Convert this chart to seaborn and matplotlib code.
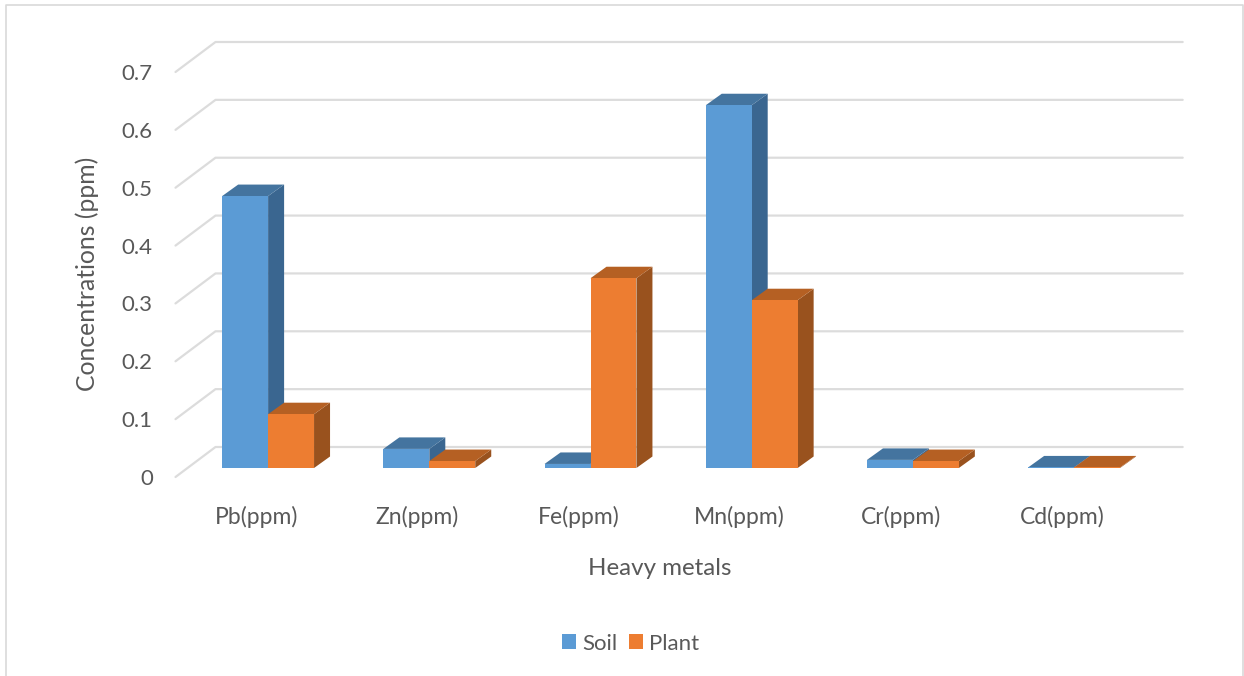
import matplotlib
matplotlib.use('Agg')
import matplotlib.pyplot as plt
from matplotlib.lines import Line2D
from matplotlib.patches import Polygon
from matplotlib.transforms import ScaledTranslation
import pandas as pd
import seaborn as sns

metals = ['Pb(ppm)', 'Zn(ppm)', 'Fe(ppm)', 'Mn(ppm)', 'Cr(ppm)', 'Cd(ppm)']
soil = [0.47, 0.033, 0.007, 0.627, 0.014, 0.001]
plant = [0.093, 0.012, 0.328, 0.29, 0.012, 0.001]
y_ticks = [0, 0.1, 0.2, 0.3, 0.4, 0.5, 0.6, 0.7]
y_labels = ['0', '0.1', '0.2', '0.3', '0.4', '0.5', '0.6', '0.7']

W, H = 1244, 676
TEXT = '#595959'
GRID = '#dcdcdc'
front_colors = {'Soil': '#5b9bd5', 'Plant': '#ed7d31'}
top_colors = ['#44749f', '#b56023']
side_colors = ['#3a6690', '#99521e']

sns.set_theme(style='white')
plt.rcParams['font.family'] = ['Lato', 'DejaVu Sans']

df = pd.DataFrame({
    'metal': metals * 2,
    'value': soil + plant,
    'series': ['Soil'] * len(metals) + ['Plant'] * len(metals),
})

fig = plt.figure(figsize=(W / 100, H / 100), dpi=100)
ax = fig.add_axes([187.5 / W, (H - 468) / H, 967.2 / W, 405 / H])

sns.barplot(data=df, x='metal', y='value', hue='series', hue_order=['Soil', 'Plant'],
            palette=front_colors, width=0.57, gap=0, dodge=True, saturation=1,
            errorbar=None, ax=ax, zorder=3, linewidth=0)
ax.set_xlim(-0.5, 5.5)
ax.set_ylim(0, 0.7)

# pixel sizes of the fake depth, turned into data units
px_x = 6 / 967.2
px_y = 0.7 / 405

# back wall grid with its diagonal going to the front
for t in y_ticks:
    ax.plot([-0.5 - 12 * px_x, -0.5 + 28 * px_x, 5.5 + 28 * px_x],
            [t - 9 * px_y, t + 21 * px_y, t + 21 * px_y],
            color=GRID, lw=1.6, clip_on=False, zorder=0)

# side and top face of each bar
bars = [p for p in ax.patches if p.get_height() > 0]
dx = 16 * px_x
dy = 11.5 * px_y
for i, bar in enumerate(bars):
    k = 0 if i < len(metals) else 1
    x0, w, h = bar.get_x(), bar.get_width(), bar.get_height()
    top = Polygon([(x0, h), (x0 + w, h), (x0 + w + dx, h + dy), (x0 + dx, h + dy)],
                  facecolor=top_colors[k], edgecolor='none', clip_on=False, zorder=1 + k * 0.5)
    side = Polygon([(x0 + w, 0), (x0 + w + dx, dy), (x0 + w + dx, h + dy), (x0 + w, h)],
                   facecolor=side_colors[k], edgecolor='none', clip_on=False, zorder=1 + k * 0.5)
    ax.add_patch(side)
    ax.add_patch(top)

sns.despine(ax=ax, left=True, bottom=True)
ax.set_yticks(y_ticks)
ax.set_yticklabels(y_labels)
ax.set_xticks(range(len(metals)))
ax.set_xticklabels(metals)
ax.tick_params(axis='y', length=0, pad=25, labelsize=16, labelcolor=TEXT)
ax.tick_params(axis='x', length=0, pad=27, labelsize=16.5, labelcolor=TEXT)

y_shift = ScaledTranslation(0, -9 / 100, fig.dpi_scale_trans)
x_shift = ScaledTranslation(-12 / 100, 0, fig.dpi_scale_trans)
for label in ax.get_yticklabels():
    label.set_transform(label.get_transform() + y_shift)
for label in ax.get_xticklabels():
    label.set_transform(label.get_transform() + x_shift)

ax.set_xlabel('Heavy metals', fontsize=17.4, color=TEXT)
ax.xaxis.set_label_coords(660 / W, (H - 568.5) / H, transform=fig.transFigure)
ax.xaxis.label.set_verticalalignment('center')
ax.set_ylabel('Concentrations (ppm)', fontsize=17.8, color=TEXT)
ax.yaxis.set_label_coords(87 / W, (H - 274) / H, transform=fig.transFigure)
ax.yaxis.label.set_verticalalignment('center')

leg = ax.legend(loc='center', bbox_to_anchor=(630.5 / W, (H - 643.5) / H),
                bbox_transform=fig.transFigure, ncol=2, frameon=False, title=None,
                fontsize=16, handlelength=0.63, handleheight=0.63, handletextpad=0.3,
                columnspacing=0.5, labelcolor=TEXT)

# chart frame, open at the bottom of the picture
fig.add_artist(Line2D([6 / W, 6 / W, 1243 / W, 1243 / W],
                      [0, (H - 5) / H, (H - 5) / H, 0],
                      color='#d9d9d9', lw=1.2))

fig.savefig('out.png', dpi=100)
